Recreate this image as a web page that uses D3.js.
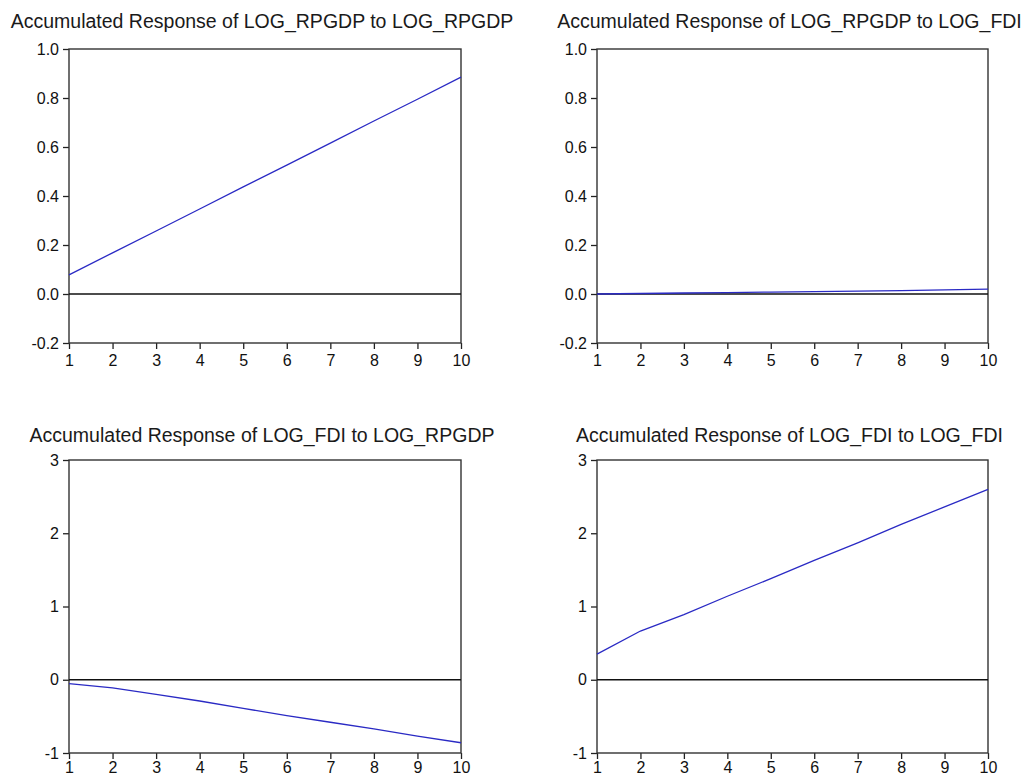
<!DOCTYPE html>
<html>
<head>
<meta charset="utf-8">
<script src="https://cdn.jsdelivr.net/npm/d3@7"></script>
<style>
  html, body { margin: 0; padding: 0; background: #ffffff; }
  svg { display: block; }
  text { font-family: "Liberation Sans", Arial, sans-serif; fill: #111; }
</style>
</head>
<body>
<svg id="chart" width="1027" height="776"></svg>
<script>
// ---- data ----
const periods = [1, 2, 3, 4, 5, 6, 7, 8, 9, 10];
const respRpgdpToRpgdp = [0.078, 0.168, 0.257, 0.347, 0.437, 0.526, 0.616, 0.706, 0.795, 0.885];
const respRpgdpToFdi   = [0.000, 0.002, 0.004, 0.006, 0.008, 0.010, 0.012, 0.014, 0.017, 0.020];
const respFdiToRpgdp   = [-0.054, -0.11, -0.20, -0.29, -0.39, -0.49, -0.58, -0.67, -0.77, -0.86];
const respFdiToFdi     = [0.35, 0.665, 0.89, 1.14, 1.38, 1.63, 1.87, 2.12, 2.36, 2.60];

const titles = [
  "Accumulated Response of LOG_RPGDP to LOG_RPGDP",
  "Accumulated Response of LOG_RPGDP to LOG_FDI",
  "Accumulated Response of LOG_FDI to LOG_RPGDP",
  "Accumulated Response of LOG_FDI to LOG_FDI"
];
const topYDomain = [-0.2, 1.0];
const topYTicks = [-0.2, 0.0, 0.2, 0.4, 0.6, 0.8, 1.0];
const bottomYDomain = [-1, 3];
const bottomYTicks = [-1, 0, 1, 2, 3];

// ---- layout ----
const svg = d3.select("#chart");
const panels = [
  { title: titles[0], values: respRpgdpToRpgdp, dom: topYDomain, ticks: topYTicks, fmt: ".1f",
    x0: 69, x1: 461, y0: 49, y1: 343, titleY: 28, pad: 6 },
  { title: titles[1], values: respRpgdpToFdi, dom: topYDomain, ticks: topYTicks, fmt: ".1f",
    x0: 597, x1: 988, y0: 49, y1: 343, titleY: 28, pad: 6 },
  { title: titles[2], values: respFdiToRpgdp, dom: bottomYDomain, ticks: bottomYTicks, fmt: "d",
    x0: 69, x1: 461, y0: 460, y1: 753, titleY: 442, pad: 3 },
  { title: titles[3], values: respFdiToFdi, dom: bottomYDomain, ticks: bottomYTicks, fmt: "d",
    x0: 597, x1: 988, y0: 460, y1: 753, titleY: 442, pad: 3 }
];

panels.forEach(p => {
  const x = d3.scaleLinear().domain([periods[0], periods[periods.length - 1]]).range([p.x0, p.x1]);
  const y = d3.scaleLinear().domain(p.dom).range([p.y1, p.y0]);
  const f = d3.format(p.fmt);
  const g = svg.append("g");

  // title
  g.append("text")
    .attr("x", (p.x0 + p.x1) / 2 - 3)
    .attr("y", p.titleY)
    .attr("text-anchor", "middle")
    .style("font-size", "19.5px")
    .style("fill", "#1a1a1a")
    .text(p.title);

  // y axis
  const ya = g.append("g").attr("transform", `translate(${p.x0},0)`)
    .call(d3.axisLeft(y).tickValues(p.ticks).tickSize(6).tickPadding(4)
      .tickFormat(d => f(d).replace("\u2212", "-")));
  // x axis
  const xa = g.append("g").attr("transform", `translate(0,${p.y1})`)
    .call(d3.axisBottom(x).tickValues(periods).tickSize(6).tickPadding(p.pad)
      .tickFormat(d3.format("d")));
  [ya, xa].forEach(a => {
    a.attr("font-size", null).attr("font-family", null);
    a.select(".domain").remove();
    a.selectAll(".tick line").attr("stroke", "#222").attr("stroke-width", 1.3);
    a.selectAll(".tick text").attr("font-size", 16).style("font-size", "16px").attr("fill", "#1a1a1a");
  });

  // frame
  g.append("rect")
    .attr("x", p.x0).attr("y", p.y0)
    .attr("width", p.x1 - p.x0).attr("height", p.y1 - p.y0)
    .attr("fill", "none").attr("stroke", "#333").attr("stroke-width", 1.4);

  // zero line
  g.append("line")
    .attr("x1", p.x0).attr("x2", p.x1)
    .attr("y1", y(0)).attr("y2", y(0))
    .attr("stroke", "#111").attr("stroke-width", 1.3);

  // response line
  const line = d3.line().x((d, i) => x(periods[i])).y(d => y(d));
  g.append("path")
    .datum(p.values)
    .attr("d", line)
    .attr("fill", "none")
    .attr("stroke", "#2a2ac4")
    .attr("stroke-width", 1.3);
});
</script>
</body>
</html>
